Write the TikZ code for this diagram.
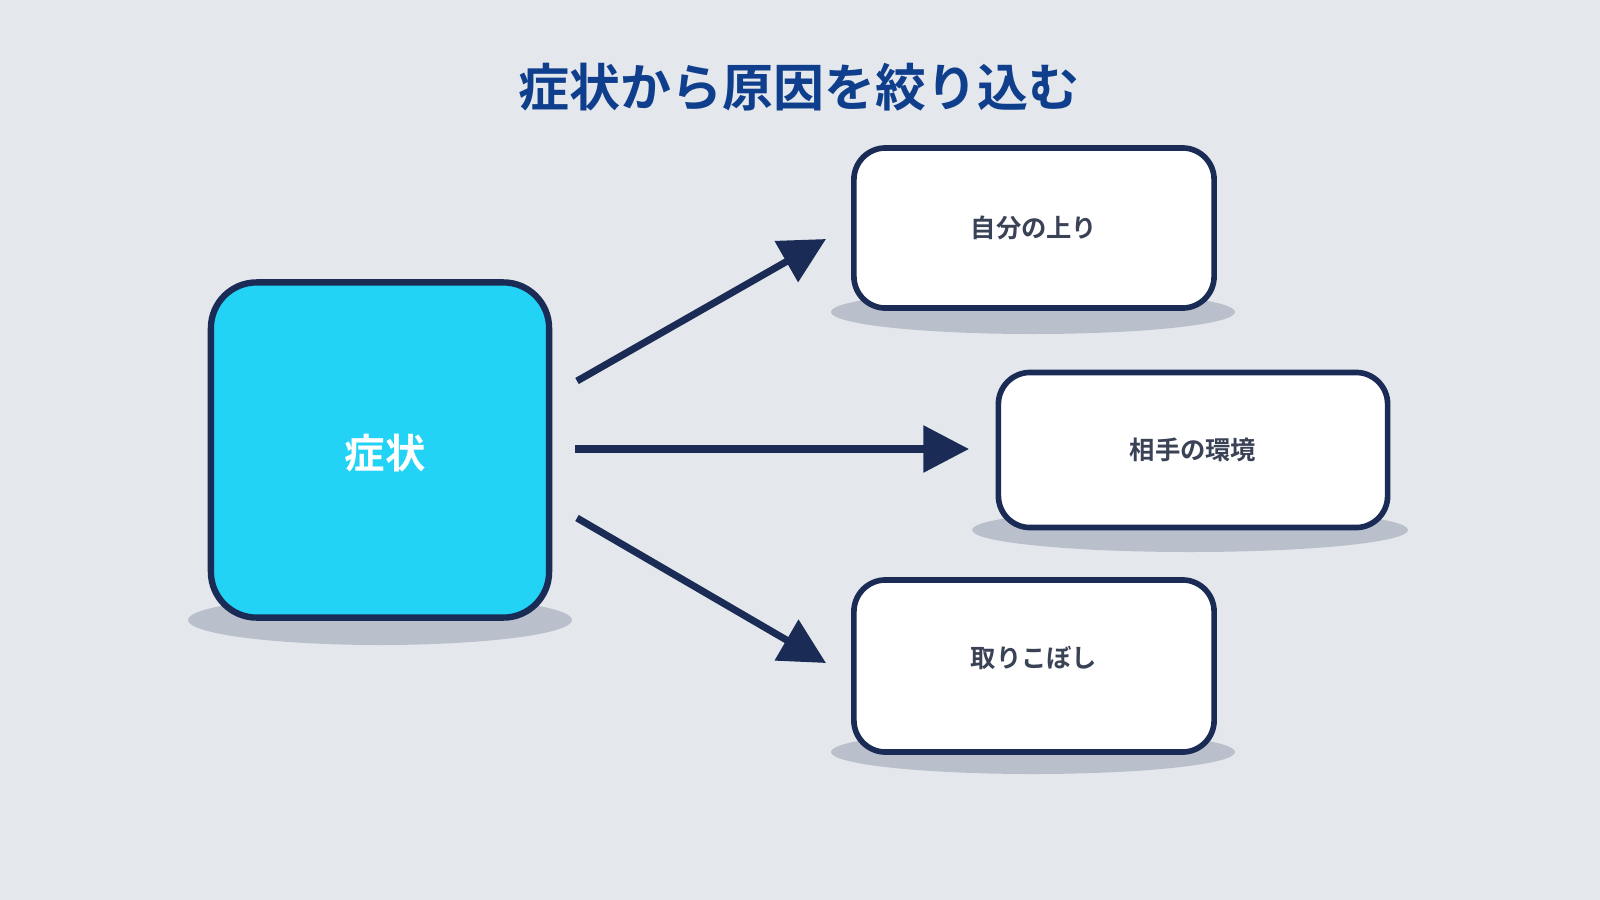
\documentclass[tikz,border=0pt]{standalone}
\usepackage{fontspec}
\newfontfamily\cjk{Noto Sans CJK JP}[BoldFont={Noto Sans CJK JP Bold}]
\usetikzlibrary{arrows.meta}
\definecolor{bg}{HTML}{E4E7EC}
\definecolor{navy}{HTML}{1A2B55}
\definecolor{cyanf}{HTML}{22D3F5}
\definecolor{shad}{HTML}{B9C0CB}
\definecolor{ttl}{HTML}{0F3F8C}
\definecolor{lbl}{HTML}{3A4256}
\begin{document}
\begin{tikzpicture}[x=0.01cm,y=-0.01cm,
 box/.style={draw=navy,line width=1.6pt,rounded corners=9pt,fill=white,inner sep=0},
 lab/.style={font=\cjk\bfseries\fontsize{7.2pt}{9pt}\selectfont,text=lbl},
 arr/.style={draw=navy,line width=2pt,-{Triangle[length=13pt,width=13pt]}}]
\fill[bg] (0,0) rectangle (1600,900);
\useasboundingbox (0,0) rectangle (1600,900);
\node[font=\cjk\bfseries\fontsize{14.5pt}{17pt}\selectfont,text=ttl] (title) at (799,87) {症状から原因を絞り込む};
\fill[shad] (380,620) ellipse [x radius=192,y radius=25];
\fill[shad] (1033,312) ellipse [x radius=202,y radius=22];
\fill[shad] (1190,530) ellipse [x radius=218,y radius=22];
\fill[shad] (1033,752) ellipse [x radius=202,y radius=22];
\node[draw=navy,line width=1.8pt,rounded corners=13pt,fill=cyanf,inner sep=0,minimum width=3.38cm,minimum height=3.35cm] (s) at (380,450) {};
\node[text=white,font=\cjk\bfseries\fontsize{11.5pt}{14pt}\selectfont] (st) at (385,453) {症状};
\node[box,minimum width=3.6cm,minimum height=1.6cm] (a) at (1034,228) {};
\node[lab] at (a) {自分の上り};
\node[box,minimum width=3.89cm,minimum height=1.55cm] (b) at (1193,450) {};
\node[lab] at (b) {相手の環境};
\node[box,minimum width=3.6cm,minimum height=1.72cm] (c) at (1034,666) {};
\node[lab] at ([yshift=0.08cm]c) {取りこぼし};
\coordinate (o1) at (577,381); \coordinate (e1) at (826,239);
\coordinate (o2) at (575,449); \coordinate (e2) at (969,449);
\coordinate (o3) at (577,518); \coordinate (e3) at (826,663);
\draw[arr] (o1) -- (e1);
\draw[arr] (o2) -- (e2);
\draw[arr] (o3) -- (e3);
\end{tikzpicture}
\end{document}
